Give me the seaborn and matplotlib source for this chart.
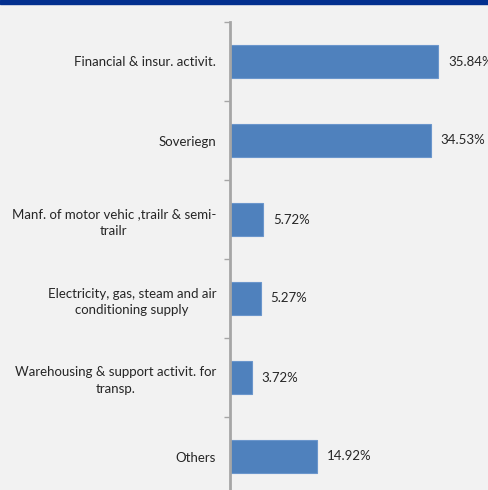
import matplotlib
matplotlib.use("Agg")
import matplotlib.pyplot as plt
import matplotlib.patches as mpatches
from matplotlib.ticker import FixedLocator
import seaborn as sns
import pandas as pd

# Exposure by sector (% of total)
sectors = [
    "Financial & insur. activit.",
    "Soveriegn",
    "Manf. of motor vehic ,trailr & semi-\ntrailr",
    "Electricity, gas, steam and air\nconditioning supply",
    "Warehousing & support activit. for\ntransp.",
    "Others",
]
shares = [35.84, 34.53, 5.72, 5.27, 3.72, 14.92]
value_labels = ["35.84%", "34.53%", "5.72%", "5.27%", "3.72%", "14.92%"]

df = pd.DataFrame({"sector": sectors, "share": shares})

sns.set_theme(style="white")
plt.rcParams["font.family"] = ["Lato", "DejaVu Sans"]

BG = "#F2F2F2"
BAR = "#4F81BD"
AXIS = "#A6A6A6"
TEXT = "#262626"

fig = plt.figure(figsize=(4.88, 4.90), dpi=100, facecolor=BG)
# plot area runs slightly past the lower edge of the canvas
ax = fig.add_axes([230 / 488, -6 / 490, 258 / 488, 474 / 490])
ax.set_facecolor(BG)

sns.barplot(data=df, x="share", y="sector", orient="h", color=BAR,
            width=0.42, saturation=1, edgecolor="#6B96CC", linewidth=0.8, ax=ax)

ax.set_xlim(0, 258 / 5.81)
ax.set_ylim(len(sectors) - 0.5, -0.5)
ax.set_xlabel("")
ax.set_ylabel("")
ax.set_xticks([])

for s in ["top", "right", "bottom"]:
    ax.spines[s].set_visible(False)
ax.spines["left"].set_color(AXIS)
ax.spines["left"].set_linewidth(2)

# category names sit at bar centres, tick marks at category boundaries
ax.tick_params(axis="y", which="major", length=0, pad=10, labelsize=9.5, labelcolor=TEXT)
for lbl in ax.get_yticklabels():
    lbl.set_multialignment("center")
    lbl.set_linespacing(1.45)
ax.yaxis.set_minor_locator(FixedLocator([i - 0.5 for i in range(len(sectors) + 1)]))
ax.tick_params(axis="y", which="minor", length=4, width=1, color=AXIS, left=True)

for i, (v, txt) in enumerate(zip(shares, value_labels)):
    ax.annotate(txt, xy=(v, i), xytext=(7, 0), textcoords="offset points",
                va="center", ha="left", fontsize=9.5, color=TEXT, clip_on=False)

# dark header strip along the top edge
fig.patches.append(mpatches.Rectangle((0, 1 - 4.5 / 490), 1, 4.5 / 490,
                                      transform=fig.transFigure, color="#03308F",
                                      zorder=10))

fig.savefig("out.png", dpi=100, facecolor=BG)
